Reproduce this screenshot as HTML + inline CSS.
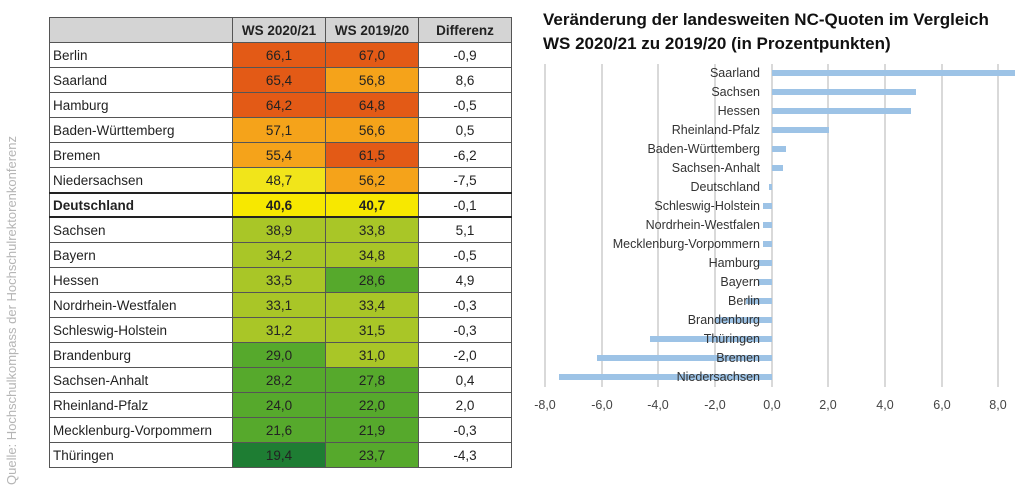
<!DOCTYPE html>
<html><head><meta charset="utf-8"><style>
body{margin:0;width:1024px;height:495px;background:#fff;position:relative;overflow:hidden;font-family:"Liberation Sans",sans-serif}
table{position:absolute;left:49px;top:17px;border-collapse:collapse;font-size:13.5px;color:#222;table-layout:fixed;width:462px}
td{border:1px solid #555;height:24px;padding:0;text-align:center;overflow:hidden;white-space:nowrap}
td:first-child{text-align:left;padding-left:3px}
th{background:#d4d4d4;border:1px solid #555;height:24px;font-size:13.5px;padding:0}
.r{background:#e35a16}.o{background:#f5a31a}.y{background:#f1e51a}.Y{background:#f7e800}.l{background:#a9c627}.g{background:#56a92c}.d{background:#1e7d33}
tr.de td{font-weight:bold;border-top:2px solid #222;border-bottom:2px solid #222;height:22px}
.src{position:absolute;left:4px;top:485px;transform:rotate(-90deg);transform-origin:0 0;color:#b5b5b5;font-size:13px;white-space:nowrap;width:370px}
.tt{position:absolute;left:543px;top:8px;font-weight:bold;font-size:17px;line-height:24px;color:#111}
</style></head><body>
<div class="src">Quelle: Hochschulkompass der Hochschulrektorenkonferenz</div>
<table>
<colgroup><col style="width:183px"><col style="width:93px"><col style="width:93px"><col style="width:93px"></colgroup>
<tr><th></th><th>WS 2020/21</th><th>WS 2019/20</th><th>Differenz</th></tr>
<tr><td>Berlin</td><td class="r">66,1</td><td class="r">67,0</td><td>-0,9</td></tr>
<tr><td>Saarland</td><td class="r">65,4</td><td class="o">56,8</td><td>8,6</td></tr>
<tr><td>Hamburg</td><td class="r">64,2</td><td class="r">64,8</td><td>-0,5</td></tr>
<tr><td>Baden-Württemberg</td><td class="o">57,1</td><td class="o">56,6</td><td>0,5</td></tr>
<tr><td>Bremen</td><td class="o">55,4</td><td class="r">61,5</td><td>-6,2</td></tr>
<tr><td>Niedersachsen</td><td class="y">48,7</td><td class="o">56,2</td><td>-7,5</td></tr>
<tr class="de"><td>Deutschland</td><td class="Y">40,6</td><td class="Y">40,7</td><td style="font-weight:normal">-0,1</td></tr>
<tr><td>Sachsen</td><td class="l">38,9</td><td class="l">33,8</td><td>5,1</td></tr>
<tr><td>Bayern</td><td class="l">34,2</td><td class="l">34,8</td><td>-0,5</td></tr>
<tr><td>Hessen</td><td class="l">33,5</td><td class="g">28,6</td><td>4,9</td></tr>
<tr><td>Nordrhein-Westfalen</td><td class="l">33,1</td><td class="l">33,4</td><td>-0,3</td></tr>
<tr><td>Schleswig-Holstein</td><td class="l">31,2</td><td class="l">31,5</td><td>-0,3</td></tr>
<tr><td>Brandenburg</td><td class="g">29,0</td><td class="l">31,0</td><td>-2,0</td></tr>
<tr><td>Sachsen-Anhalt</td><td class="g">28,2</td><td class="g">27,8</td><td>0,4</td></tr>
<tr><td>Rheinland-Pfalz</td><td class="g">24,0</td><td class="g">22,0</td><td>2,0</td></tr>
<tr><td>Mecklenburg-Vorpommern</td><td class="g">21,6</td><td class="g">21,9</td><td>-0,3</td></tr>
<tr><td>Thüringen</td><td class="d">19,4</td><td class="g">23,7</td><td>-4,3</td></tr>
</table>
<div class="tt">Veränderung der landesweiten NC-Quoten im Vergleich<br>WS 2020/21 zu 2019/20 (in Prozentpunkten)</div>
<svg style="position:absolute;left:0;top:0" width="1024" height="495" font-family="Liberation Sans,sans-serif" font-size="12.5">
<g stroke="#d9d9d9" stroke-width="2">
<line x1="545" y1="64" x2="545" y2="387"/><line x1="602" y1="64" x2="602" y2="387"/><line x1="658" y1="64" x2="658" y2="387"/><line x1="715" y1="64" x2="715" y2="387"/><line x1="772" y1="64" x2="772" y2="387"/><line x1="828" y1="64" x2="828" y2="387"/><line x1="885" y1="64" x2="885" y2="387"/><line x1="942" y1="64" x2="942" y2="387"/><line x1="998" y1="64" x2="998" y2="387"/>
</g>
<g fill="#9dc3e6">
<rect x="772" y="70" width="243" height="6"/>
<rect x="772" y="89" width="144" height="6"/>
<rect x="772" y="108" width="139" height="6"/>
<rect x="772" y="127" width="57" height="6"/>
<rect x="772" y="146" width="14" height="6"/>
<rect x="772" y="165" width="11" height="6"/>
<rect x="769" y="184" width="3" height="6"/>
<rect x="763" y="203" width="9" height="6"/>
<rect x="763" y="222" width="9" height="6"/>
<rect x="763" y="241" width="9" height="6"/>
<rect x="758" y="260" width="14" height="6"/>
<rect x="758" y="279" width="14" height="6"/>
<rect x="746" y="298" width="26" height="6"/>
<rect x="715" y="317" width="57" height="6"/>
<rect x="650" y="336" width="122" height="6"/>
<rect x="597" y="355" width="175" height="6"/>
<rect x="559" y="374" width="213" height="6"/>
</g>
<g fill="#333" text-anchor="end">
<text x="760" y="77">Saarland</text><text x="760" y="96">Sachsen</text><text x="760" y="115">Hessen</text><text x="760" y="134">Rheinland-Pfalz</text><text x="760" y="153">Baden-Württemberg</text><text x="760" y="172">Sachsen-Anhalt</text><text x="760" y="191">Deutschland</text><text x="760" y="210">Schleswig-Holstein</text><text x="760" y="229">Nordrhein-Westfalen</text><text x="760" y="248">Mecklenburg-Vorpommern</text><text x="760" y="267">Hamburg</text><text x="760" y="286">Bayern</text><text x="760" y="305">Berlin</text><text x="760" y="324">Brandenburg</text><text x="760" y="343">Thüringen</text><text x="760" y="362">Bremen</text><text x="760" y="381">Niedersachsen</text>
</g>
<g fill="#444" text-anchor="middle">
<text x="545" y="409">-8,0</text><text x="602" y="409">-6,0</text><text x="658" y="409">-4,0</text><text x="715" y="409">-2,0</text><text x="772" y="409">0,0</text><text x="828" y="409">2,0</text><text x="885" y="409">4,0</text><text x="942" y="409">6,0</text><text x="998" y="409">8,0</text>
</g>
</svg>
</body></html>
